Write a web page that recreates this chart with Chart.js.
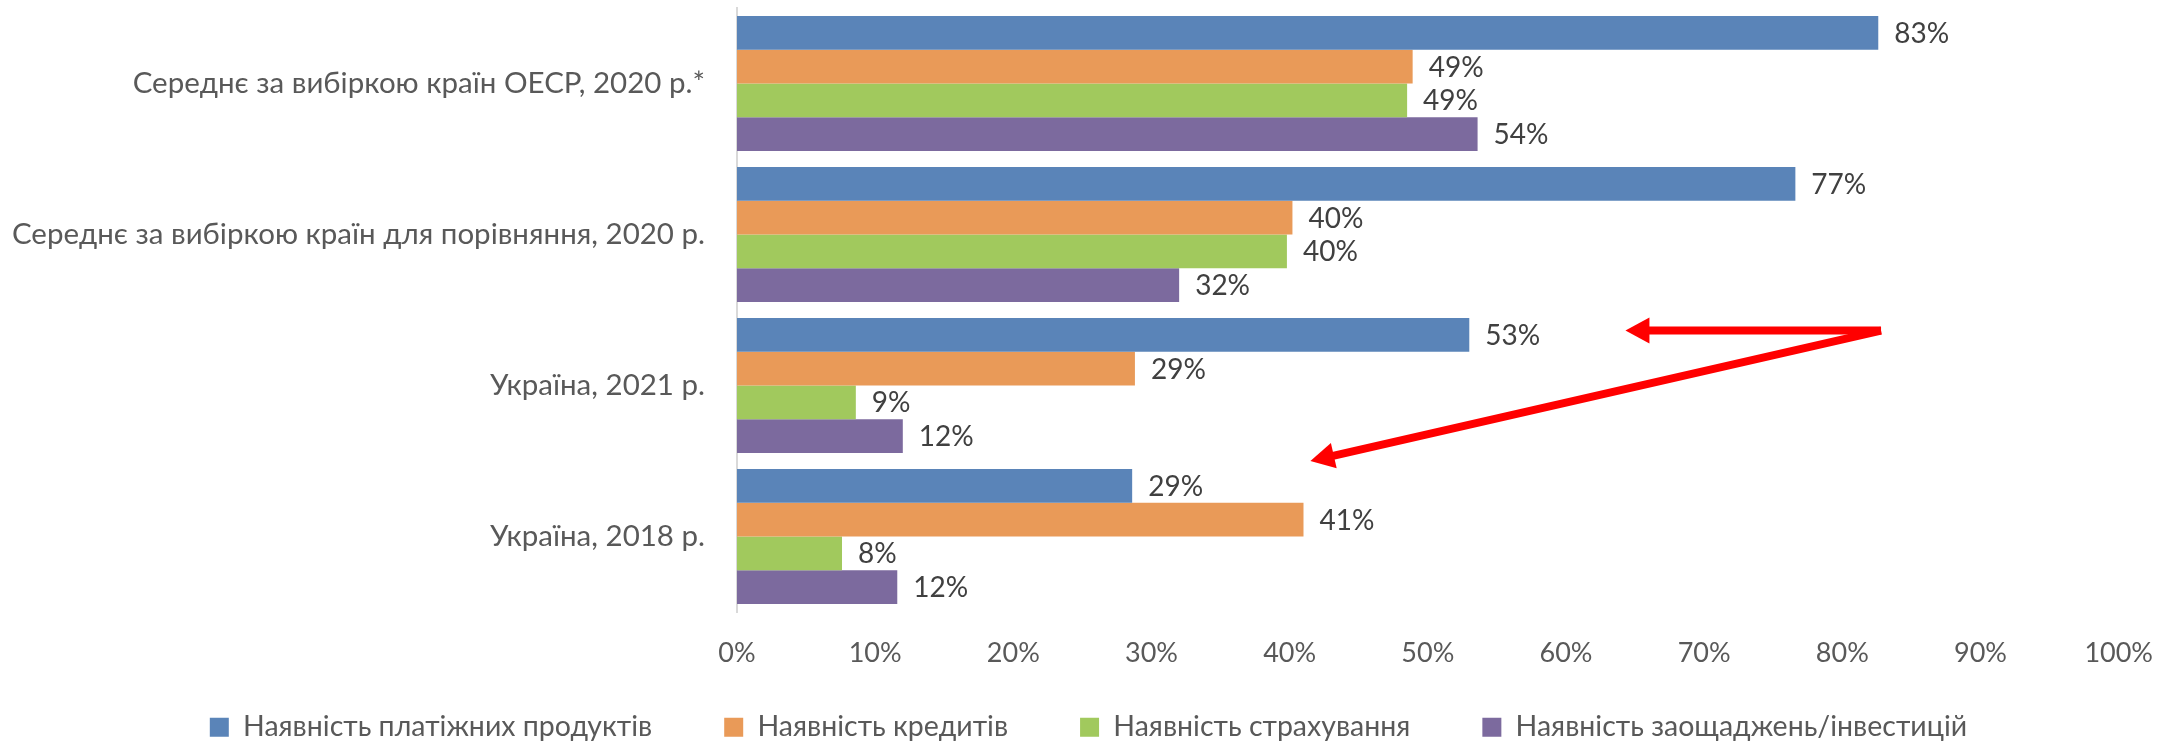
<!DOCTYPE html>
<html>
<head>
<meta charset="utf-8">
<script src="https://cdn.jsdelivr.net/npm/chart.js@4/dist/chart.umd.min.js"></script>
<style>
  html, body { margin: 0; padding: 0; background: #ffffff; }
  #wrap { width: 2178px; height: 743px; }
</style>
</head>
<body>
<div id="wrap"><canvas id="c" width="2178" height="743"></canvas></div>
<script>
// ---- data ----
const categories = [
  'Середнє за вибіркою країн ОЕСР, 2020 р.*',
  'Середнє за вибіркою країн для порівняння, 2020 р.',
  'Україна, 2021 р.',
  'Україна, 2018 р.'
];
const seriesNames = [
  'Наявність платіжних продуктів',
  'Наявність кредитів',
  'Наявність страхування',
  'Наявність заощаджень/інвестицій'
];
const payments   = [82.6, 76.6, 53.0, 28.6];
const credits    = [48.9, 40.2, 28.8, 41.0];
const insurance  = [48.5, 39.8, 8.6, 7.6];
const savings    = [53.6, 32.0, 12.0, 11.6];
const xTicks = [0, 10, 20, 30, 40, 50, 60, 70, 80, 90, 100];
// annotation arrows (value units: x in %, y in category index)
const arrows = [
  { from: [82.8, 1.636], to: [64.3, 1.636] },
  { from: [82.8, 1.636], to: [41.5, 2.5] }
];

const colors = ['#5A84B8', '#E99A58', '#A1C95D', '#7C6A9E'];
const FONT = 'Lato, "Open Sans", sans-serif';
const LEGEND_PAD = 72;      // horizontal spacing between legend items
const LEGEND_OFFSET = 41;   // item top offset inside the legend box
const LEGEND_DX = 26;       // horizontal nudge of the legend row

const dataLabelPlugin = {
  id: 'dataLabels',
  afterDatasetsDraw(chart) {
    const ctx = chart.ctx;
    ctx.save();
    ctx.font = '28px ' + FONT;
    ctx.fillStyle = '#404040';
    ctx.textAlign = 'left';
    ctx.textBaseline = 'middle';
    chart.data.datasets.forEach((ds, di) => {
      const meta = chart.getDatasetMeta(di);
      meta.data.forEach((bar, i) => {
        ctx.fillText(Math.round(ds.data[i]) + '%', bar.x + 16, bar.y + 1);
      });
    });
    ctx.restore();
  }
};

const arrowPlugin = {
  id: 'arrows',
  afterDatasetsDraw(chart) {
    const ctx = chart.ctx;
    const xs = chart.scales.x, ys = chart.scales.y;
    ctx.save();
    ctx.strokeStyle = '#FF0000';
    ctx.fillStyle = '#FF0000';
    ctx.lineWidth = 8;
    ctx.lineCap = 'butt';
    arrows.forEach(a => {
      const x1 = xs.getPixelForValue(a.from[0]), y1 = ys.getPixelForValue(a.from[1]);
      const x2 = xs.getPixelForValue(a.to[0]),   y2 = ys.getPixelForValue(a.to[1]);
      const ang = Math.atan2(y2 - y1, x2 - x1);
      const headLen = 24, headHalf = 13;
      const bx = x2 - headLen * Math.cos(ang), by = y2 - headLen * Math.sin(ang);
      ctx.beginPath();
      ctx.moveTo(x1, y1);
      ctx.lineTo(bx + 2 * Math.cos(ang), by + 2 * Math.sin(ang));
      ctx.stroke();
      ctx.beginPath();
      ctx.moveTo(x2, y2);
      ctx.lineTo(bx + headHalf * Math.sin(ang), by - headHalf * Math.cos(ang));
      ctx.lineTo(bx - headHalf * Math.sin(ang), by + headHalf * Math.cos(ang));
      ctx.closePath();
      ctx.fill();
    });
    ctx.restore();
  }
};

// lets the legend keep wide horizontal spacing while staying compact vertically
const legendShiftPlugin = {
  id: 'legendShift',
  afterInit(chart) {
    const lg = chart.legend;
    if (!lg) return;
    const origDraw = lg.draw;
    lg.draw = function () {
      const t = this.top, l = this.left, r = this.right;
      this.top = t - (LEGEND_PAD - LEGEND_OFFSET);
      this.left = l + LEGEND_DX;
      this.right = r + LEGEND_DX;
      origDraw.call(this);
      this.top = t; this.left = l; this.right = r;
    };
  }
};

const seriesData = [payments, credits, insurance, savings];

new Chart(document.getElementById('c'), {
  type: 'bar',
  data: {
    labels: categories,
    datasets: seriesNames.map((n, i) => ({
      label: n,
      data: seriesData[i],
      backgroundColor: colors[i],
      borderWidth: 0,
      categoryPercentage: 0.894,
      barPercentage: 1.0
    }))
  },
  options: {
    indexAxis: 'y',
    responsive: false,
    animation: false,
    devicePixelRatio: 1,
    layout: { padding: { left: 0, right: 53, top: 8, bottom: 0 } },
    plugins: {
      tooltip: { enabled: false },
      legend: {
        position: 'bottom',
        maxHeight: 71,
        labels: {
          boxWidth: 19,
          boxHeight: 19,
          padding: LEGEND_PAD,
          color: '#595959',
          font: { family: FONT, size: 28.5 }
        }
      }
    },
    scales: {
      x: {
        min: 0, max: 100,
        afterBuildTicks(scale) { scale.ticks = xTicks.map(v => ({ value: v })); },
        afterFit(scale) { scale.height = 60; },
        grid: { display: false, drawTicks: false },
        border: { display: false },
        ticks: {
          padding: 25,
          color: '#595959',
          font: { family: FONT, size: 27 },
          callback: v => v + '%'
        }
      },
      y: {
        afterFit(scale) { scale.width = 737; scale.paddingTop = 0; scale.paddingBottom = 0; },
        grid: { display: false, drawTicks: false },
        border: { display: true, color: '#D9D9D9', width: 2 },
        ticks: {
          padding: 32,
          color: '#595959',
          font: { family: FONT, size: 29.5 }
        }
      }
    }
  },
  plugins: [dataLabelPlugin, arrowPlugin, legendShiftPlugin]
});
</script>
</body>
</html>
